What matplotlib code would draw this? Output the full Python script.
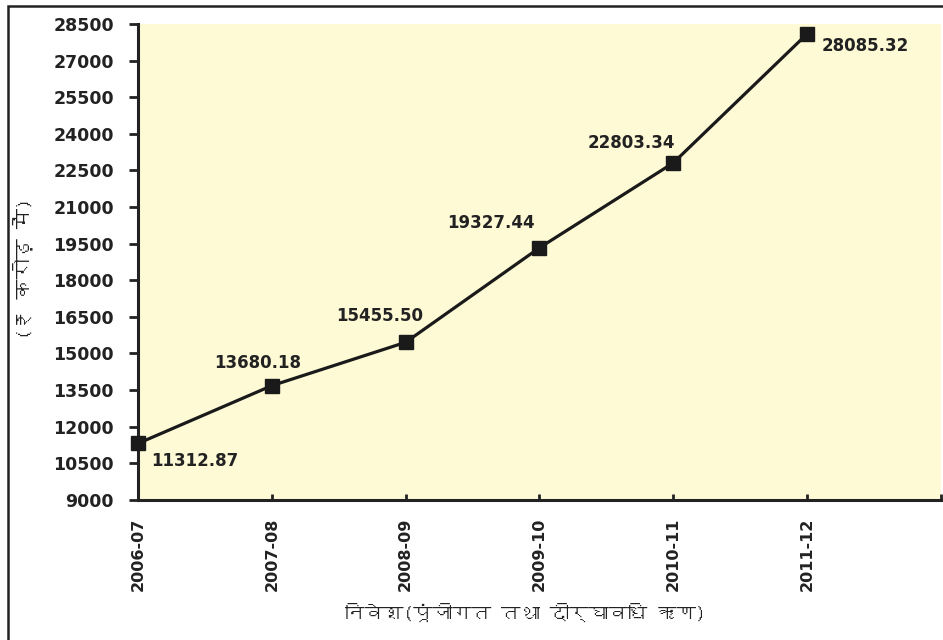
import matplotlib
matplotlib.use("Agg")
import matplotlib.pyplot as plt
from matplotlib import font_manager
from matplotlib.ft2font import FT2Font
from matplotlib.patches import Rectangle

years = ["2006-07", "2007-08", "2008-09", "2009-10", "2010-11", "2011-12"]
investment = [11312.87, 13680.18, 15455.50, 19327.44, 22803.34, 28085.32]
y_ticks = list(range(9000, 28501, 1500))
x_title = "निवेश(पूंजीगत तथा दीर्घावधि ऋण)"
y_title = "(₹ करोड़ में)"

# label offsets in pixels (dx, dy) and horizontal alignment
label_pos = [(13, -18, "left"), (-14, 23, "center"), (-26, 26, "center"),
             (-48, 25, "center"), (-42, 20, "center"), (15, -12, "left")]

INK = "#222222"


def devanagari_family():
    for f in font_manager.fontManager.ttflist:
        try:
            ft = FT2Font(f.fname)
            cmap = ft.get_charmap()
            if 0x0928 in cmap and 0x0947 in cmap:
                return f.name
        except Exception:
            continue
    return None


deva = devanagari_family()
text_family = [deva, "DejaVu Sans"] if deva else ["DejaVu Sans"]

plt.rcParams["font.family"] = ["DejaVu Sans"]

fig = plt.figure(figsize=(9.43, 6.4), dpi=100)
ax = fig.add_axes([0.1465, 0.219, 0.851, 0.7435])
ax.set_facecolor("#fffad6")

x = list(range(len(years)))
ax.plot(x, investment, color="#1a1a1a", lw=2.3, marker="s", ms=9.5,
        clip_on=False, zorder=3)

for xi, v, (dx, dy, ha) in zip(x, investment, label_pos):
    ax.annotate(f"{v:.2f}", (xi, v), xytext=(dx, dy), textcoords="offset pixels",
                ha=ha, va="center", fontsize=12, fontweight="bold", color=INK)

ax.set_xlim(0, len(years))
ax.set_ylim(9000, 28500)
ax.set_yticks(y_ticks)
ax.set_yticklabels([str(t) for t in y_ticks], fontsize=12.5, fontweight="bold",
                   color=INK)
ax.set_xticks(list(range(len(years) + 1)))
ax.set_xticklabels(years + [""], rotation=90, fontsize=11.5, fontweight="bold",
                   color=INK)
ax.tick_params(axis="y", direction="out", length=6.5, width=2, pad=11,
               color=INK)
ax.tick_params(axis="x", direction="in", length=4, width=2, pad=13,
               color=INK)

for side in ("top", "right"):
    ax.spines[side].set_visible(False)
for side in ("left", "bottom"):
    ax.spines[side].set_linewidth(2.2)
    ax.spines[side].set_color(INK)

fig.text(0.557, 0.043, x_title, ha="center", va="center", fontsize=14,
         family=text_family, color=INK)
fig.text(0.024, 0.58, y_title, ha="center", va="center", fontsize=14.5,
         rotation=90, family=text_family, color=INK)

# frame around the figure (left and top edges visible)
fig.add_artist(Rectangle((0.0085, -0.05), 1.2, 1.04, transform=fig.transFigure,
                         fill=False, lw=1.8, edgecolor=INK))

fig.savefig("out.png", dpi=100, facecolor="white")
